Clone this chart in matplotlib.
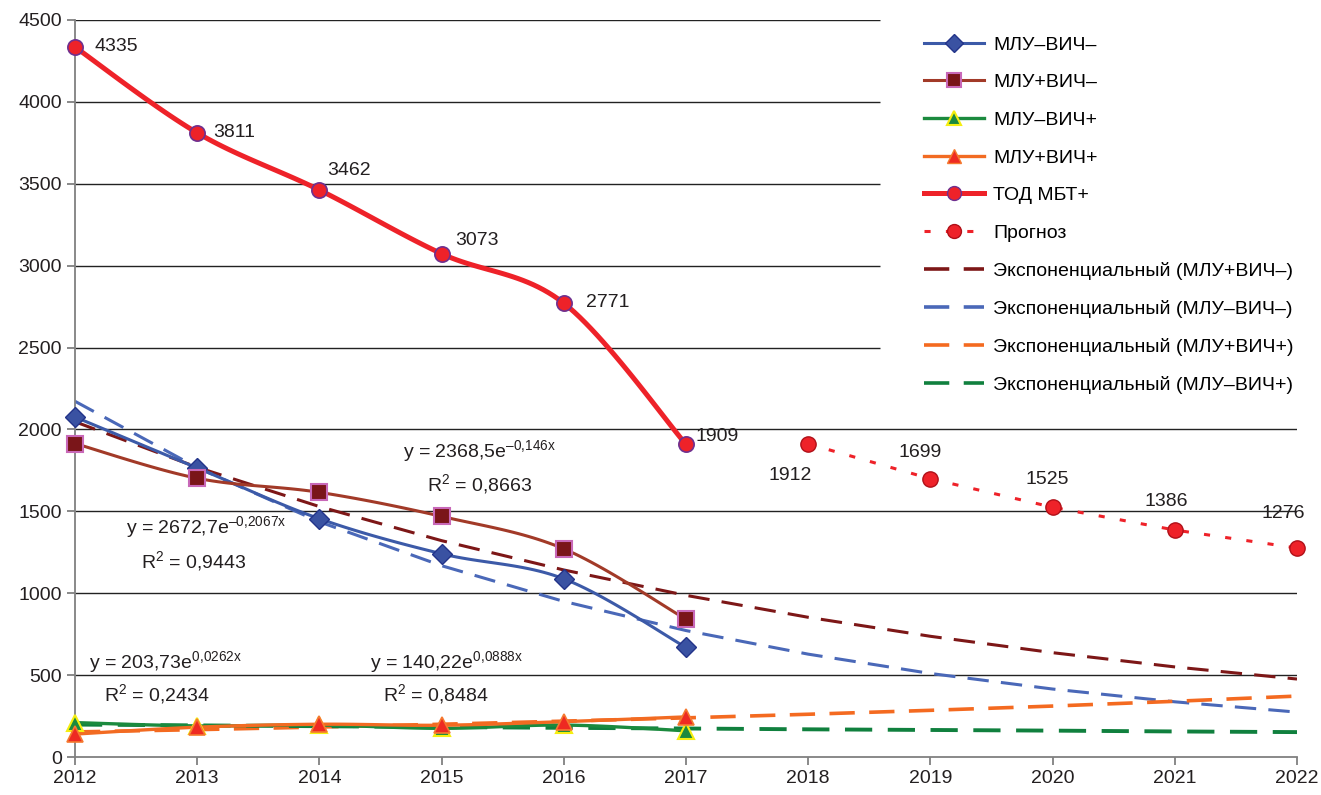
import numpy as np
import matplotlib.pyplot as plt
from matplotlib.lines import Line2D

plt.rcParams['font.family'] = ['Liberation Sans', 'DejaVu Sans']
plt.rcParams['mathtext.fontset'] = 'custom'
plt.rcParams['mathtext.rm'] = 'Liberation Sans'

years = [2012, 2013, 2014, 2015, 2016, 2017]
years_fc = [2018, 2019, 2020, 2021, 2022]
years_all = [2012, 2013, 2014, 2015, 2016, 2017, 2018, 2019, 2020, 2021, 2022]

tod = [4335, 3811, 3462, 3073, 2771, 1909]
forecast = [1912, 1699, 1525, 1386, 1276]
nomdr_hivneg = [2076, 1765, 1455, 1241, 1088, 669]   # МЛУ–ВИЧ–
mdr_hivneg = [1914, 1702, 1616, 1469, 1271, 841]      # МЛУ+ВИЧ–
nomdr_hivpos = [210, 190, 195, 175, 195, 160]         # МЛУ–ВИЧ+
mdr_hivpos = [140, 182, 200, 194, 216, 245]           # МЛУ+ВИЧ+

# exponential trend values read at each year
trend_mdr_hivneg = [2047, 1769, 1529, 1321, 1142, 987, 853, 737, 637, 550, 476]
trend_nomdr_hivneg = [2172, 1767, 1436, 1168, 950, 772, 628, 510, 415, 337, 274]
trend_mdr_hivpos = [153, 167, 183, 200, 219, 239, 261, 285, 311, 340, 372]
trend_nomdr_hivpos = [198, 193, 188, 183, 178, 174, 169, 165, 161, 156, 152]


def smooth(x, y, n=25):
    # bezier smoothing like excel "smoothed line"
    x = np.asarray(x, float)
    y = np.asarray(y, float)
    xs, ys = [], []
    t = np.linspace(0, 1, n)
    for i in range(len(x) - 1):
        p0 = max(i - 1, 0)
        p3 = min(i + 2, len(x) - 1)
        for arr, out in ((x, xs), (y, ys)):
            a0, a1, a2, a3 = arr[p0], arr[i], arr[i + 1], arr[p3]
            c1 = a1 + (a2 - a0) / 6
            c2 = a2 - (a3 - a1) / 6
            out.extend((1 - t) ** 3 * a1 + 3 * (1 - t) ** 2 * t * c1
                       + 3 * (1 - t) * t ** 2 * c2 + t ** 3 * a2)
    return xs, ys


fig = plt.figure(figsize=(13.21, 7.95), dpi=100)
ax = fig.add_axes([75 / 1321, 1 - 757 / 795, 1222 / 1321, 737 / 795])
ax.set_xlim(2012, 2022)
ax.set_ylim(0, 4500)

# grid lines (upper ones stop before the legend)
for v in [500, 1000, 1500, 2000]:
    ax.hlines(v, 2012, 2022, color='#222222', lw=1, zorder=1)
for v in [2500, 3000, 3500, 4000, 4500]:
    ax.hlines(v, 2012, 2018.59, color='#222222', lw=1, zorder=1)

c_blue = '#3c5aa8'
c_maroon = '#a23a28'
c_green = '#1b8a3e'
c_orange = '#f26b22'
c_red = '#ee2229'

# trend lines
dash = (0, (7, 4))
ax.plot(years_all, trend_mdr_hivneg, color='#7d1717', lw=2.2, ls=dash, zorder=2)
ax.plot(years_all, trend_nomdr_hivneg, color='#4a68b8', lw=2.2, ls=dash, zorder=2)
ax.plot(years_all, trend_mdr_hivpos, color='#f46a20', lw=2.6, ls=dash, zorder=2)
ax.plot(years_all, trend_nomdr_hivpos, color='#10803e', lw=2.8, ls=dash, zorder=2)

# data lines
sx, sy = smooth(years, nomdr_hivneg)
ax.plot(sx, sy, color=c_blue, lw=2.2, zorder=3)
ax.plot(years, nomdr_hivneg, ls='none', marker='D', ms=10, mfc='#3a52a2',
        mec='#23348a', zorder=5, clip_on=False)

sx, sy = smooth(years, mdr_hivneg)
ax.plot(sx, sy, color=c_maroon, lw=2.2, zorder=3)
ax.plot(years, mdr_hivneg, ls='none', marker='s', ms=11, mfc='#7a1519',
        mec='#c868b8', mew=1.5, zorder=5, clip_on=False)

sx, sy = smooth(years, nomdr_hivpos)
ax.plot(sx, sy, color=c_green, lw=2.4, zorder=3)
ax.plot(years, nomdr_hivpos, ls='none', marker='^', ms=11, mfc='#1b8a3e',
        mec='#f5ee10', mew=1.5, zorder=4, clip_on=False)

sx, sy = smooth(years, mdr_hivpos)
ax.plot(sx, sy, color=c_orange, lw=2.4, zorder=3)
ax.plot(years, mdr_hivpos, ls='none', marker='^', ms=11, mfc='#ee2a22',
        mec='#f57a30', mew=1.2, zorder=4, clip_on=False)

sx, sy = smooth(years, tod)
ax.plot(sx, sy, color=c_red, lw=3.6, zorder=6)
ax.plot(years, tod, ls='none', marker='o', ms=11, mfc=c_red,
        mec='#6e3090', mew=1.2, zorder=7, clip_on=False)

ax.plot(years_fc, forecast, color=c_red, lw=2.2, ls=(0, (2, 5)),
        marker='o', ms=11, mfc=c_red, mec='#b01018', mew=1, zorder=6,
        clip_on=False)

# data labels
tod_off = [(20, 1), (16, 0), (8, 20), (14, 13), (22, 1), (10, 8)]
for x, v, off in zip(years, tod, tod_off):
    ax.annotate(str(v), (x, v), xytext=off, textcoords='offset pixels',
                ha='left', va='center', fontsize=14, color='#231f20', zorder=8)
fc_off = [(-18, -32), (-10, 26), (-5, 28), (-9, 29), (-14, 35)]
for x, v, off in zip(years_fc, forecast, fc_off):
    ax.annotate(str(v), (x, v), xytext=off, textcoords='offset pixels',
                ha='center', va='center', fontsize=14, color='#231f20', zorder=8)

# trend equations
eqs = [
    (2015.31, 1862, 'y = 2368,5e$^{\\mathregular{–0{,}146x}}$'),
    (2015.31, 1661, 'R$^{\\mathregular{2}}$ = 0,8663'),
    (2013.07, 1398, 'y = 2672,7e$^{\\mathregular{–0{,}2067x}}$'),
    (2012.97, 1190, 'R$^{\\mathregular{2}}$ = 0,9443'),
    (2012.74, 574, 'y = 203,73e$^{\\mathregular{0{,}0262x}}$'),
    (2012.67, 379, 'R$^{\\mathregular{2}}$ = 0,2434'),
    (2015.04, 574, 'y = 140,22e$^{\\mathregular{0{,}0888x}}$'),
    (2014.95, 379, 'R$^{\\mathregular{2}}$ = 0,8484'),
]
for x, y, s in eqs:
    ax.text(x, y, s, ha='center', va='center', fontsize=14,
            color='#231f20', zorder=8)

# axes styling
for s in ['top', 'right']:
    ax.spines[s].set_visible(False)
ax.spines['left'].set_color('#808080')
ax.spines['bottom'].set_color('#808080')
ax.spines['left'].set_linewidth(1.3)
ax.spines['bottom'].set_linewidth(1.3)
ax.set_xticks(years_all)
ax.set_yticks(range(0, 4501, 500))
ax.tick_params(axis='both', colors='#808080', labelcolor='#231f20',
               labelsize=14, length=6, width=1.3)

handles = [
    Line2D([], [], color=c_blue, lw=2.2, marker='D', ms=9, mfc='#3a52a2', mec='#23348a'),
    Line2D([], [], color=c_maroon, lw=2.2, marker='s', ms=10, mfc='#7a1519', mec='#c868b8', mew=1.5),
    Line2D([], [], color=c_green, lw=2.4, marker='^', ms=10, mfc='#1b8a3e', mec='#f5ee10', mew=1.5),
    Line2D([], [], color=c_orange, lw=2.4, marker='^', ms=10, mfc='#ee2a22', mec='#f57a30'),
    Line2D([], [], color=c_red, lw=3.6, marker='o', ms=10, mfc=c_red, mec='#6e3090'),
    Line2D([], [], color=c_red, lw=2.2, ls=(0, (2, 5)), marker='o', ms=10, mfc=c_red, mec='#b01018'),
    Line2D([], [], color='#7d1717', lw=2.6, ls=(0, (7, 4))),
    Line2D([], [], color='#4a68b8', lw=2.6, ls=(0, (7, 4))),
    Line2D([], [], color='#f46a20', lw=2.6, ls=(0, (7, 4))),
    Line2D([], [], color='#10803e', lw=2.6, ls=(0, (7, 4))),
]
labels = ['МЛУ–ВИЧ–', 'МЛУ+ВИЧ–', 'МЛУ–ВИЧ+', 'МЛУ+ВИЧ+', 'ТОД МБТ+', 'Прогноз',
          'Экспоненциальный (МЛУ+ВИЧ–)', 'Экспоненциальный (МЛУ–ВИЧ–)',
          'Экспоненциальный (МЛУ+ВИЧ+)', 'Экспоненциальный (МЛУ–ВИЧ+)']
fig.legend(handles, labels, loc='upper left', bbox_to_anchor=(924 / 1321, 1 - 36 / 795),
           frameon=False, fontsize=14, handlelength=3.1, handletextpad=0.45,
           labelspacing=1.03, borderpad=0, borderaxespad=0, numpoints=1)

fig.savefig('out.png', dpi=100)
